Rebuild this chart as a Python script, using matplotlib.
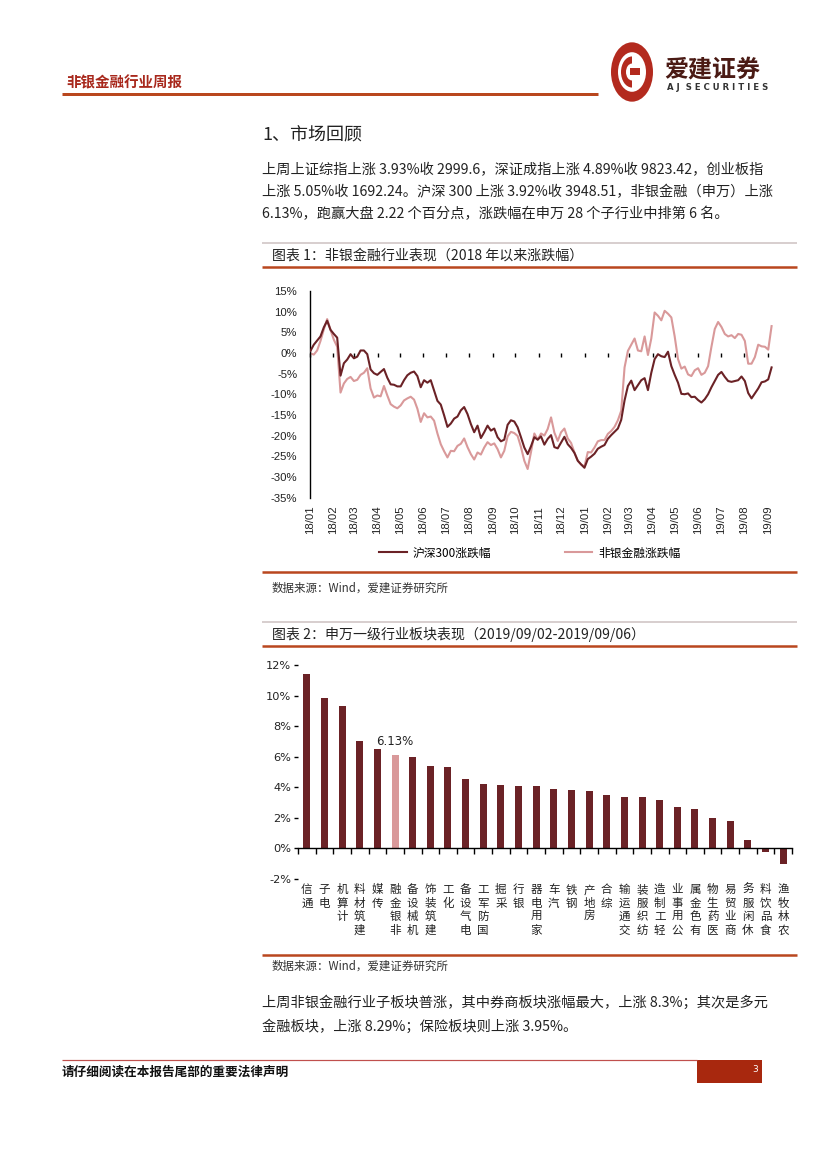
import matplotlib
matplotlib.use('Agg')
import matplotlib.pyplot as plt
import matplotlib.dates as mdates
import matplotlib.ticker as mticker
import numpy as np
import pandas as pd
from matplotlib.patches import Rectangle, Circle, Wedge
from matplotlib.lines import Line2D

plt.rcParams['font.family'] = ['Noto Sans CJK SC', 'DejaVu Sans']

# ---------------- data ----------------
start_date = '2018-01-02'
end_date = '2019-09-06'
hs300_pct = [0.5, 2.0, 3.0, 4.0, 6.2, 7.8, 5.6, 4.6, 3.7, -5.5,
             -2.5, -1.6, -0.3, -1.3, -0.9, 0.6, 0.6, -0.3, -4.0, -4.9,
             -5.3, -4.6, -3.9, -6.0, -7.6, -7.7, -8.1, -8.1, -6.6, -5.4,
             -4.8, -4.5, -5.6, -8.3, -6.6, -7.2, -6.6, -9.1, -11.6, -12.5,
             -15.1, -17.9, -17.1, -15.9, -15.4, -13.9, -13.1, -14.8, -17.2, -19.2,
             -17.6, -20.6, -19.2, -17.6, -18.8, -18.3, -20.4, -21.4, -21.0, -17.4,
             -16.3, -16.6, -18.0, -20.4, -22.9, -24.5, -22.6, -20.4, -21.0, -20.2,
             -22.2, -20.8, -19.9, -22.8, -23.1, -21.7, -20.3, -22.1, -23.0, -24.2,
             -26.1, -27.0, -27.8, -25.7, -25.1, -24.4, -23.2, -22.7, -22.3, -20.8,
             -19.9, -19.1, -18.3, -16.2, -11.5, -8.0, -6.7, -9.0, -7.8, -6.6,
             -6.1, -9.0, -4.8, -1.5, -0.3, -0.8, -1.0, 0.3, -3.2, -5.3,
             -7.2, -9.9, -10.0, -9.8, -10.7, -10.6, -11.4, -12.0, -11.2, -10.0,
             -8.3, -6.8, -5.3, -4.6, -5.8, -6.8, -7.0, -6.8, -6.6, -5.7,
             -6.8, -9.7, -11.0, -9.8, -8.6, -7.1, -6.9, -6.4, -3.5]
nonbank_pct = [-0.1, -0.4, 0.6, 2.9, 5.7, 8.2, 5.6, 3.2, 1.5, -9.6,
               -7.4, -6.3, -5.8, -6.8, -6.5, -5.3, -4.8, -3.7, -8.6, -10.8,
               -10.3, -10.5, -8.0, -10.3, -12.4, -13.0, -13.4, -12.7, -11.5, -11.0,
               -10.6, -11.3, -13.5, -16.7, -14.6, -15.6, -15.4, -16.4, -19.5, -22.1,
               -23.8, -25.3, -23.7, -23.8, -22.5, -22.0, -20.7, -22.8, -24.5, -25.8,
               -24.1, -24.6, -22.9, -21.6, -22.3, -21.9, -23.3, -25.3, -23.7, -20.2,
               -19.1, -19.4, -20.1, -22.8, -26.1, -28.1, -24.0, -19.5, -21.0, -19.5,
               -20.0, -18.4, -15.6, -19.3, -21.3, -19.2, -18.3, -20.7, -21.8, -24.1,
               -26.1, -27.0, -27.5, -24.0, -24.1, -22.9, -21.4, -21.1, -21.1, -19.6,
               -18.9, -17.9, -16.3, -14.0, -3.5, 0.5, 2.0, 3.5, 0.6, 0.4,
               4.0, -0.5, 3.5, 9.8, 9.0, 7.9, 10.2, 9.5, 8.6, 4.0,
               -1.5, -3.8, -3.3, -5.2, -5.6, -4.2, -3.7, -5.3, -4.8, -3.2,
               1.5, 5.8, 7.5, 6.3, 4.6, 4.0, 4.3, 3.6, 4.6, 4.4,
               2.9, -2.6, -2.6, -1.0, 2.0, 1.6, 1.5, 0.8, 6.5]
series_names = ['沪深300涨跌幅', '非银金融涨跌幅']

industries = ['通信', '电子', '计算机', '建筑材料', '传媒', '非银金融', '机械设备',
              '建筑装饰', '化工', '电气设备', '国防军工', '采掘', '银行', '家用电器',
              '汽车', '钢铁', '房地产', '综合', '交通运输', '纺织服装', '轻工制造',
              '公用事业', '有色金属', '医药生物', '商业贸易', '休闲服务', '食品饮料', '农林牧渔']
weekly_pct = [11.4, 9.85, 9.3, 7.0, 6.5, 6.13, 6.0, 5.41, 5.33, 4.54,
              4.24, 4.17, 4.08, 4.08, 3.89, 3.82, 3.76, 3.52, 3.36, 3.36,
              3.17, 2.71, 2.58, 1.99, 1.79, 0.55, -0.22, -1.0]
highlight = '非银金融'

# ---------------- styling ----------------
DARK = '#6B2226'
PINK = '#D9999A'
RED_RULE = '#B9471E'
W, H = 827, 1169
fig = plt.figure(figsize=(8.27, 11.69), dpi=100)


def fx(x):
    return x / W


def fy(y):
    return 1 - y / H


def pt(p):
    return p * 72 / 100


def hline(x0, x1, y, color, lw_px):
    fig.add_artist(Line2D([fx(x0), fx(x1)], [fy(y), fy(y)], color=color,
                          lw=pt(lw_px), transform=fig.transFigure, solid_capstyle='butt'))


def ftext(x, y, s, size_px, **kw):
    fig.text(fx(x), fy(y), s, fontsize=pt(size_px), **kw)


# ---------------- header ----------------
ftext(66, 83, '非银金融行业周报', 14.5, color='#A8281C', weight='bold', va='center')
hline(62, 598, 94, RED_RULE, 3)
# logo
lx, ly = 632, 72
fig.add_artist(Circle((fx(lx), fy(ly)), fx(21), transform=fig.transFigure,
                      facecolor='#B32A1E', edgecolor='none'))
fig.add_artist(Circle((fx(lx), fy(ly)), fx(14), transform=fig.transFigure,
                      facecolor='white', edgecolor='none'))
fig.add_artist(Wedge((fx(lx), fy(ly)), fx(11), 90, 270, width=fx(5), transform=fig.transFigure,
                     facecolor='#B32A1E', edgecolor='none'))
fig.add_artist(Rectangle((fx(lx - 2), fy(ly + 3)), fx(10), fx(5), transform=fig.transFigure,
                         facecolor='#B32A1E', edgecolor='none'))
ftext(664, 70, '爱建证券', 24, color='#4A1A14', weight='bold', va='center')
ftext(667, 88, 'A J  S E C U R I T I E S', 8.5, color='#333333', weight='bold', va='center',
      family='DejaVu Sans')

# ---------------- section text ----------------
ftext(262, 135, '1、市场回顾', 18, color='#222222', va='center')
para1 = ['上周上证综指上涨 3.93%收 2999.6，深证成指上涨 4.89%收 9823.42，创业板指',
         '上涨 5.05%收 1692.24。沪深 300 上涨 3.92%收 3948.51，非银金融（申万）上涨',
         '6.13%，跑赢大盘 2.22 个百分点，涨跌幅在申万 28 个子行业中排第 6 名。']
for i, line in enumerate(para1):
    ftext(262, 170 + i * 22, line, 14.2, color='#222222', va='center')

# ---------------- chart 1 frame ----------------
hline(262, 797, 243, '#D8CFCF', 2)
ftext(272, 256, '图表 1：非银金融行业表现（2018 年以来涨跌幅）', 14, color='#222222', va='center')
hline(262, 797, 267, RED_RULE, 2.5)
hline(262, 797, 572, RED_RULE, 2.5)
ftext(272, 588, '数据来源：Wind，爱建证券研究所', 11.5, color='#333333', va='center')

ax1 = fig.add_axes([fx(309.7), fy(497.5), fx(774.6) - fx(309.7), fy(291) - fy(497.5)])
dates = pd.date_range(start_date, end_date, periods=len(hs300_pct))
ax1.plot(dates, nonbank_pct, color=PINK, lw=1.5, label=series_names[1], zorder=2)
ax1.plot(dates, hs300_pct, color=DARK, lw=1.5, label=series_names[0], zorder=3)
ax1.set_xlim(pd.Timestamp('2018-01-01'), pd.Timestamp('2019-09-10'))
ax1.set_ylim(-35, 15)
for s in ['top', 'right']:
    ax1.spines[s].set_visible(False)
ax1.spines['left'].set_linewidth(1.0)
ax1.spines['bottom'].set_position(('data', 0))
ax1.spines['bottom'].set_visible(False)
ax1.set_axisbelow(True)
ax1.xaxis.set_major_locator(mdates.MonthLocator(bymonthday=1))
ax1.tick_params(axis='x', which='major', direction='out', length=3, width=1,
                labelbottom=False, color='black')
ax1.set_yticks(np.arange(-35, 16, 5))
ax1.yaxis.set_major_formatter(mticker.FuncFormatter(lambda v, p: f'{v:.0f}%'))
ax1.tick_params(axis='y', which='major', length=0, pad=9, labelsize=8.2, labelcolor='#222222')
ax1.set_yticks([15, 5, -5, -15, -25], minor=True)
ax1.tick_params(axis='y', which='minor', direction='in', length=3, width=1)
for lab in ax1.get_yticklabels():
    lab.set_family('Liberation Sans')

sec = ax1.secondary_xaxis('bottom')
month_ticks = pd.date_range('2018-01-01', '2019-09-01', freq='MS')
sec.set_xticks(month_ticks)
sec.set_xticklabels([d.strftime('%y/%m') for d in month_ticks], rotation=90,
                    family='Liberation Sans', fontsize=8.2, color='#222222')
sec.tick_params(length=0, pad=6)
sec.spines['bottom'].set_visible(False)

ax1.legend(handles=ax1.get_lines()[::-1], loc='center', bbox_to_anchor=(fx(530), fy(553)),
           bbox_transform=fig.transFigure, ncol=2, frameon=False, fontsize=8.5,
           handlelength=2.3, handletextpad=0.5, columnspacing=6.3)

# ---------------- chart 2 frame ----------------
hline(262, 797, 622, '#D8CFCF', 2)
ftext(272, 635, '图表 2：申万一级行业板块表现（2019/09/02-2019/09/06）', 14, color='#222222', va='center')
hline(262, 797, 646, RED_RULE, 2.5)
hline(262, 797, 955, RED_RULE, 2.5)
ftext(272, 966, '数据来源：Wind，爱建证券研究所', 11.5, color='#333333', va='center')

ax2 = fig.add_axes([fx(298), fy(879), fx(792) - fx(298), fy(665) - fy(879)])
xpos = np.arange(len(industries))
bar_colors = [PINK if n == highlight else DARK for n in industries]
ax2.bar(xpos, weekly_pct, width=0.4, color=bar_colors, zorder=2)
hi = industries.index(highlight)
ax2.annotate(f'{weekly_pct[hi]:.2f}%', (xpos[hi], weekly_pct[hi]), xytext=(0, 5),
             textcoords='offset points', ha='center', va='bottom', fontsize=8.5,
             family='DejaVu Sans', color='#222222')
ax2.set_xlim(-0.5, len(industries) - 0.5)
ax2.set_ylim(-2, 12)
for s in ['top', 'right', 'left']:
    ax2.spines[s].set_visible(False)
ax2.spines['bottom'].set_position(('data', 0))
ax2.spines['bottom'].set_linewidth(1.0)
ax2.set_xticks(np.arange(-0.5, len(industries), 1.0))
ax2.tick_params(axis='x', which='major', direction='out', length=4, width=1, labelbottom=False)
ax2.set_yticks(np.arange(-2, 13, 2))
ax2.yaxis.set_major_formatter(mticker.FuncFormatter(lambda v, p: f'{v:.0f}%'))
ax2.tick_params(axis='y', direction='out', length=3, width=1, pad=2, labelsize=8.2,
                labelcolor='#222222')
for lab in ax2.get_yticklabels():
    lab.set_family('DejaVu Sans')

# category names run upward (first character at the bottom), upright glyphs, hung from the top
sec2 = ax2.secondary_xaxis('bottom')
sec2.set_xticks(xpos)
sec2.set_xticklabels(['\n'.join(reversed(n)) for n in industries], fontsize=8.3,
                     color='#222222', linespacing=1.05, va='top')
sec2.tick_params(length=0, pad=3)
sec2.spines['bottom'].set_visible(False)

# ---------------- closing text ----------------
para2 = ['上周非银金融行业子板块普涨，其中券商板块涨幅最大，上涨 8.3%；其次是多元',
         '金融板块，上涨 8.29%；保险板块则上涨 3.95%。']
for i, line in enumerate(para2):
    ftext(262, 1003 + i * 24, line, 14.2, color='#222222', va='center')

# ---------------- footer ----------------
hline(62, 697, 1060, '#C0504D', 1.2)
ftext(62, 1072, '请仔细阅读在本报告尾部的重要法律声明', 12.6, color='#111111', weight='bold', va='center')
fig.add_artist(Rectangle((fx(697), fy(1083)), fx(762) - fx(697), fy(1060) - fy(1083),
                         transform=fig.transFigure, facecolor='#A8280E', edgecolor='none'))
ftext(752, 1070, '3', 9, color='white', va='center', family='DejaVu Sans')

fig.savefig('out.png', dpi=100)
